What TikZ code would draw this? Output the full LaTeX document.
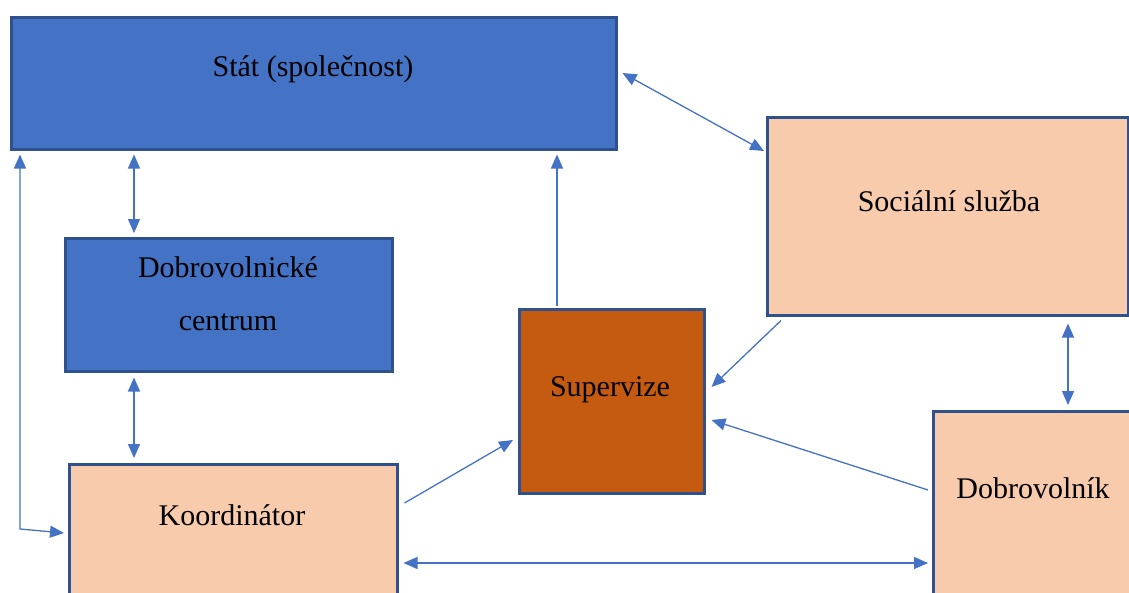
\documentclass[tikz,border=0pt]{standalone}
\usepackage{fontspec}
\setmainfont{Liberation Serif}
\usepackage{xcolor}
\usetikzlibrary{arrows.meta,calc}

\definecolor{statblue}{HTML}{4472C4}
\definecolor{edgeblue}{HTML}{2F528F}
\definecolor{peach}{HTML}{F8CBAD}
\definecolor{rust}{HTML}{C55A11}

\tikzset{
  box/.style={draw=edgeblue, line width=2.5pt, rectangle, inner sep=0pt, anchor=north west},
  txt/.style={anchor=base, inner sep=0pt, font=\fontsize{30}{53}\selectfont, text=black},
  link/.style={draw=statblue, line width=1.3pt, -{Triangle[length=14pt,width=12pt]}},
  both/.style={link, {Triangle[length=14pt,width=12pt]}-{Triangle[length=14pt,width=12pt]}}
}

\begin{document}
\begin{tikzpicture}[x=1pt, y=-1pt]
  \useasboundingbox (0,0) rectangle (1129,592);
  \clip (0,0) rectangle (1129,592);
  % boxes
  \node[box, fill=statblue, minimum width=605, minimum height=132] (stat) at (10,16) {};
  \node[box, fill=statblue, minimum width=327, minimum height=133] (dc) at (64,237) {};
  \node[box, fill=peach, minimum width=328, minimum height=160] (koord) at (68,463) {};
  \node[box, fill=rust, minimum width=185, minimum height=184] (superv) at (518,308) {};
  \node[box, fill=peach, minimum width=361, minimum height=198] (soc) at (766,116) {};
  \node[box, fill=peach, minimum width=220, minimum height=210] (dobr) at (932,410) {};
  % texts
  \node[txt] (stattext) at (313,76) {Stát (společnost)};
  \node[txt, align=center] (dctext) at (228,330) {Dobrovolnické\\centrum};
  \node[txt] (koordtext) at (232,525) {Koordinátor};
  \node[txt] (supervtext) at (610,396) {Supervize};
  \node[txt] (soctext) at (949,211) {Sociální služba};
  \node[txt] (dobrtext) at (1033,498) {Dobrovolník};
  % arrows
  \coordinate (bend) at (20,529);
  \draw[both] ($(stat.south west)+(124,4)$) -- ($(dc.north west)+(70,-4)$);
  \draw[both] ($(dc.south west)+(70,5)$) -- ($(koord.north west)+(66,-5)$);
  \draw[both] ($(stat.south west)+(10,4)$) -- (bend) -- ($(koord.north west)+(-4,70)$);
  \draw[link] ($(superv.north west)+(39,-2)$) -- ($(stat.south west)+(547,4)$);
  \draw[both] ($(stat.north east)+(5,57)$) -- ($(soc.north west)+(-2,35)$);
  \draw[link] ($(soc.south west)+(15,4)$) -- ($(superv.north east)+(6,79)$);
  \draw[link] ($(dobr.north west)+(-4,80)$) -- ($(superv.north east)+(6,112)$);
  \draw[link] ($(koord.north east)+(6,40)$) -- ($(superv.north west)+(-5,132)$);
  \draw[both] ($(koord.north east)+(5,100)$) -- ($(dobr.north west)+(-4,153)$);
  \draw[both] ($(soc.south west)+(302,7)$) -- ($(dobr.north west)+(136,-5)$);
\end{tikzpicture}
\end{document}
